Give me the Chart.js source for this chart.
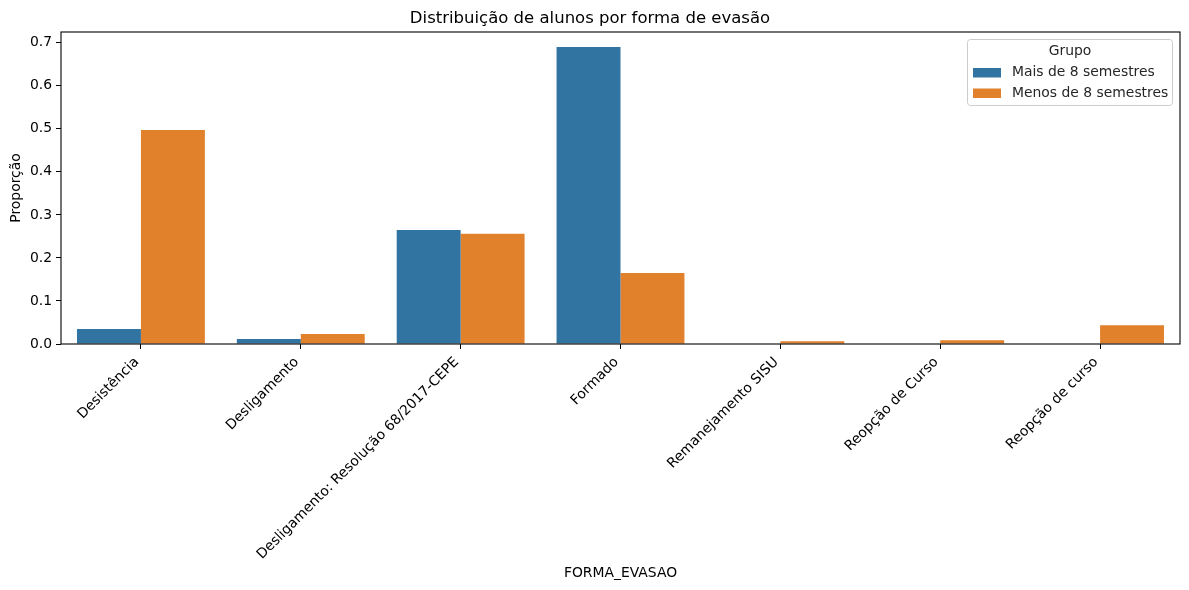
<!DOCTYPE html>
<html>
<head>
<meta charset="utf-8">
<script src="https://cdn.jsdelivr.net/npm/chart.js@4/dist/chart.umd.min.js"></script>
<style>
html,body{margin:0;padding:0;background:#fff;}
#wrap{width:1189px;height:590px;position:relative;}
</style>
</head>
<body>
<div id="wrap"><canvas id="c"></canvas></div>
<script>
const categories = ["Desistência","Desligamento","Desligamento: Resolução 68/2017-CEPE","Formado","Remanejamento SISU","Reopção de Curso","Reopção de curso"];
const maisValues = [0.035, 0.0116, 0.265, 0.690, 0, 0, 0];
const menosValues = [0.497, 0.023, 0.256, 0.165, 0.0062, 0.0085, 0.0435];
const seriesLabels = ["Mais de 8 semestres","Menos de 8 semestres"];
const yTicks = [0,0.1,0.2,0.3,0.4,0.5,0.6,0.7];

const FONT = "DejaVu Sans";
const BLUE = "#3274a1", ORANGE = "#e1812c";

const framePlugin = {
  id: 'frame',
  afterDatasetsDraw(chart){
    const {ctx, chartArea:a} = chart;
    ctx.save();
    ctx.strokeStyle = '#000';
    ctx.lineWidth = 1.1;
    ctx.strokeRect(a.left, a.top, a.right-a.left, a.bottom-a.top);
    ctx.restore();
  }
};

const legendPlugin = {
  id: 'customLegend',
  afterDraw(chart){
    const ctx = chart.ctx;
    const x0 = 967.5, y0 = 39.5, w = 205, h = 66;
    ctx.save();
    ctx.globalAlpha = 0.8;
    ctx.fillStyle = '#fff';
    ctx.strokeStyle = '#cccccc';
    ctx.lineWidth = 1;
    const r = 3;
    ctx.beginPath();
    ctx.moveTo(x0+r,y0);
    ctx.lineTo(x0+w-r,y0); ctx.quadraticCurveTo(x0+w,y0,x0+w,y0+r);
    ctx.lineTo(x0+w,y0+h-r); ctx.quadraticCurveTo(x0+w,y0+h,x0+w-r,y0+h);
    ctx.lineTo(x0+r,y0+h); ctx.quadraticCurveTo(x0,y0+h,x0,y0+h-r);
    ctx.lineTo(x0,y0+r); ctx.quadraticCurveTo(x0,y0,x0+r,y0);
    ctx.closePath();
    ctx.fill();
    ctx.globalAlpha = 1;
    ctx.stroke();
    ctx.fillStyle = '#262626';
    ctx.font = `13.9px "${FONT}"`;
    ctx.textBaseline = 'middle';
    ctx.textAlign = 'center';
    ctx.fillText('Grupo', x0 + w/2, 51.5);
    ctx.textAlign = 'left';
    const ys = [72.5, 93];
    chart.data.datasets.forEach((ds, i) => {
      ctx.fillStyle = ds.backgroundColor;
      ctx.fillRect(973, ys[i]-4.5, 28, 9.5);
      ctx.fillStyle = '#262626';
      ctx.fillText(ds.label, 1012, ys[i]);
    });
    ctx.restore();
  }
};

new Chart(document.getElementById('c'), {
  type: 'bar',
  data: {
    labels: categories,
    datasets: [
      {label: seriesLabels[0], data: maisValues, backgroundColor: BLUE, borderWidth: 0},
      {label: seriesLabels[1], data: menosValues, backgroundColor: ORANGE, borderWidth: 0}
    ]
  },
  options: {
    responsive: true,
    maintainAspectRatio: false,
    animation: false,
    devicePixelRatio: 1,
    layout: {padding: {left: 0, right: 9, top: 0, bottom: 0}},
    datasets: {bar: {categoryPercentage: 0.8, barPercentage: 1.0}},
    plugins: {
      legend: {display: false},
      tooltip: {enabled: false},
      title: {
        display: true,
        text: 'Distribuição de alunos por forma de evasão',
        color: '#000',
        font: {family: FONT, size: 16.5, weight: 'normal'},
        padding: {top: 9, bottom: 3.2}
      }
    },
    scales: {
      x: {
        offset: true,
        grid: {display: true, drawOnChartArea: false, drawTicks: true, tickLength: 5, color: '#000', offset: false},
        border: {display: false},
        ticks: {
          color: '#000', font: {family: FONT, size: 13.9},
          maxRotation: 45, minRotation: 45, autoSkip: false, padding: 5, labelOffset: -4
        },
        title: {
          display: true, text: 'FORMA_EVASAO', color: '#000',
          font: {family: FONT, size: 13.9}, padding: {top: 4, bottom: 8}
        },
        afterFit(scale){ scale.height = 590 - 344; }
      },
      y: {
        min: 0, max: 0.725,
        grid: {display: true, drawOnChartArea: false, drawTicks: true, tickLength: 5, color: '#000'},
        border: {display: false},
        afterBuildTicks(scale){ scale.ticks = yTicks.map(v => ({value: v})); },
        ticks: {
          color: '#000', font: {family: FONT, size: 13.9}, padding: 4,
          callback: v => Number(v).toFixed(1)
        },
        title: {
          display: true, text: 'Proporção', color: '#000',
          font: {family: FONT, size: 13.9}, padding: {top: 8, bottom: 4}
        },
        afterFit(scale){ scale.width = 61; }
      }
    }
  },
  plugins: [framePlugin, legendPlugin]
});
</script>
</body>
</html>
